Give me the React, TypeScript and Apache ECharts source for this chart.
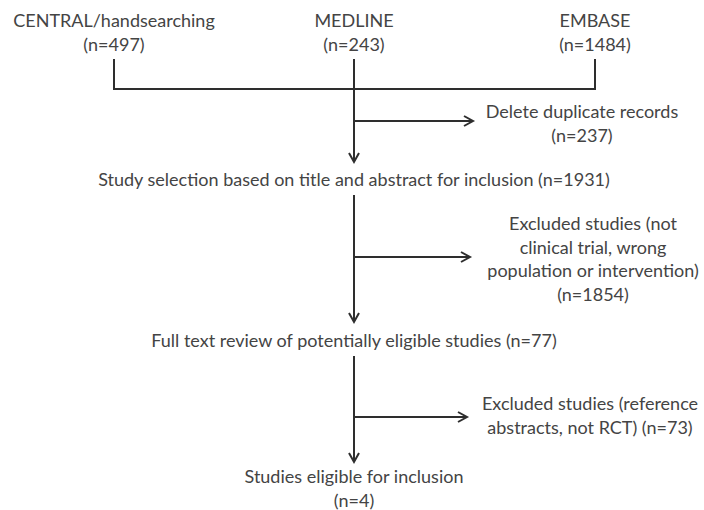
import React, { useEffect, useRef } from "react";
import * as echarts from "echarts";

// ---- data ----
const sourceNames = ["CENTRAL/handsearching", "MEDLINE", "EMBASE"];
const sourceCounts = [497, 243, 1484];
const stepLabels = [
  "Study selection based on title and abstract for inclusion",
  "Full text review of potentially eligible studies",
  "Studies eligible for inclusion",
];
const stepCounts = [1931, 77, 4];
const exclusionLines = [
  ["Delete duplicate records"],
  ["Excluded studies (not", "clinical trial, wrong", "population or intervention)"],
  ["Excluded studies (reference", "abstracts, not RCT)"],
];
const exclusionCounts = [237, 1854, 73];

// ---- layout ----
const FONT = "Lato, 'Noto Sans', sans-serif";
const FS = 18;
const TXT = "#444444";
const LN = "#2e2e2e";
const LW = 2;
const CX = 354;
const sourceX = [114, 354, 595];
const lineH = 23.5;

function txt(text: string, x: number, y: number) {
  return {
    type: "text",
    x,
    y,
    style: {
      text,
      fill: TXT,
      font: `${FS}px ${FONT}`,
      align: "center",
      verticalAlign: "middle",
    },
    silent: true,
  };
}
function seg(x1: number, y1: number, x2: number, y2: number) {
  return {
    type: "line",
    shape: { x1, y1, x2, y2 },
    style: { stroke: LN, lineWidth: LW },
    silent: true,
  };
}
function arrowRight(x1: number, y: number, x2: number) {
  return [
    seg(x1, y, x2 - 1, y),
    {
      type: "polyline",
      shape: { points: [[x2 - 9, y - 5], [x2, y], [x2 - 9, y + 5]] },
      style: { stroke: LN, lineWidth: LW, fill: "none" },
      silent: true,
    },
  ];
}
function arrowDown(x: number, y1: number, y2: number) {
  return [
    seg(x, y1, x, y2 - 1),
    {
      type: "polyline",
      shape: { points: [[x - 5, y2 - 9], [x, y2], [x + 5, y2 - 9]] },
      style: { stroke: LN, lineWidth: LW, fill: "none" },
      silent: true,
    },
  ];
}

export default function App() {
  const ref = useRef<HTMLDivElement>(null);
  useEffect(() => {
    if (!ref.current) return;
    const chart = echarts.init(ref.current, null, { renderer: "svg" });
    const els: any[] = [];

    // sources
    sourceNames.forEach((n, i) => {
      els.push(txt(n, sourceX[i], 20));
      els.push(txt(`(n=${sourceCounts[i]})`, sourceX[i], 43.5));
    });
    // merge lines
    els.push(seg(sourceX[0], 59, sourceX[0], 89));
    els.push(seg(sourceX[2], 59, sourceX[2], 89));
    els.push(seg(sourceX[0] - 1, 89, sourceX[2] + 1, 89));
    els.push(...arrowDown(CX, 59, 162));

    // steps
    const stepY = [179, 340, 476];
    const downs = [
      [59, 162],
      [195, 322],
      [356, 462],
    ];
    const branchY = [121, 257, 417];
    const branchTip = [473, 470, 467];
    const exclX = [582, 593, 590];
    const exclY0 = [111, 223, 403];

    stepLabels.forEach((s, i) => {
      if (i < 2) {
        els.push(txt(`${s} (n=${stepCounts[i]})`, CX, stepY[i]));
      } else {
        els.push(txt(s, CX, stepY[i]));
        els.push(txt(`(n=${stepCounts[i]})`, CX, stepY[i] + 24));
      }
    });
    for (let i = 1; i < 3; i++) {
      els.push(...arrowDown(CX, downs[i][0], downs[i][1]));
    }
    exclusionLines.forEach((lines, i) => {
      els.push(...arrowRight(CX, branchY[i], branchTip[i]));
      lines.forEach((l, j) => {
        const isLast = j === lines.length - 1;
        const t = i === 2 && isLast ? `${l} (n=${exclusionCounts[i]})` : l;
        els.push(txt(t, exclX[i], exclY0[i] + j * lineH));
      });
      if (i !== 2) {
        els.push(
          txt(`(n=${exclusionCounts[i]})`, exclX[i], exclY0[i] + lines.length * lineH)
        );
      }
    });

    chart.setOption({
      animation: false,
      backgroundColor: "#ffffff",
      graphic: { elements: els },
    });
    return () => chart.dispose();
  }, []);
  return (
    <div
      ref={ref}
      style={{ position: "fixed", left: 0, top: 0, width: 704, height: 510 }}
    />
  );
}
